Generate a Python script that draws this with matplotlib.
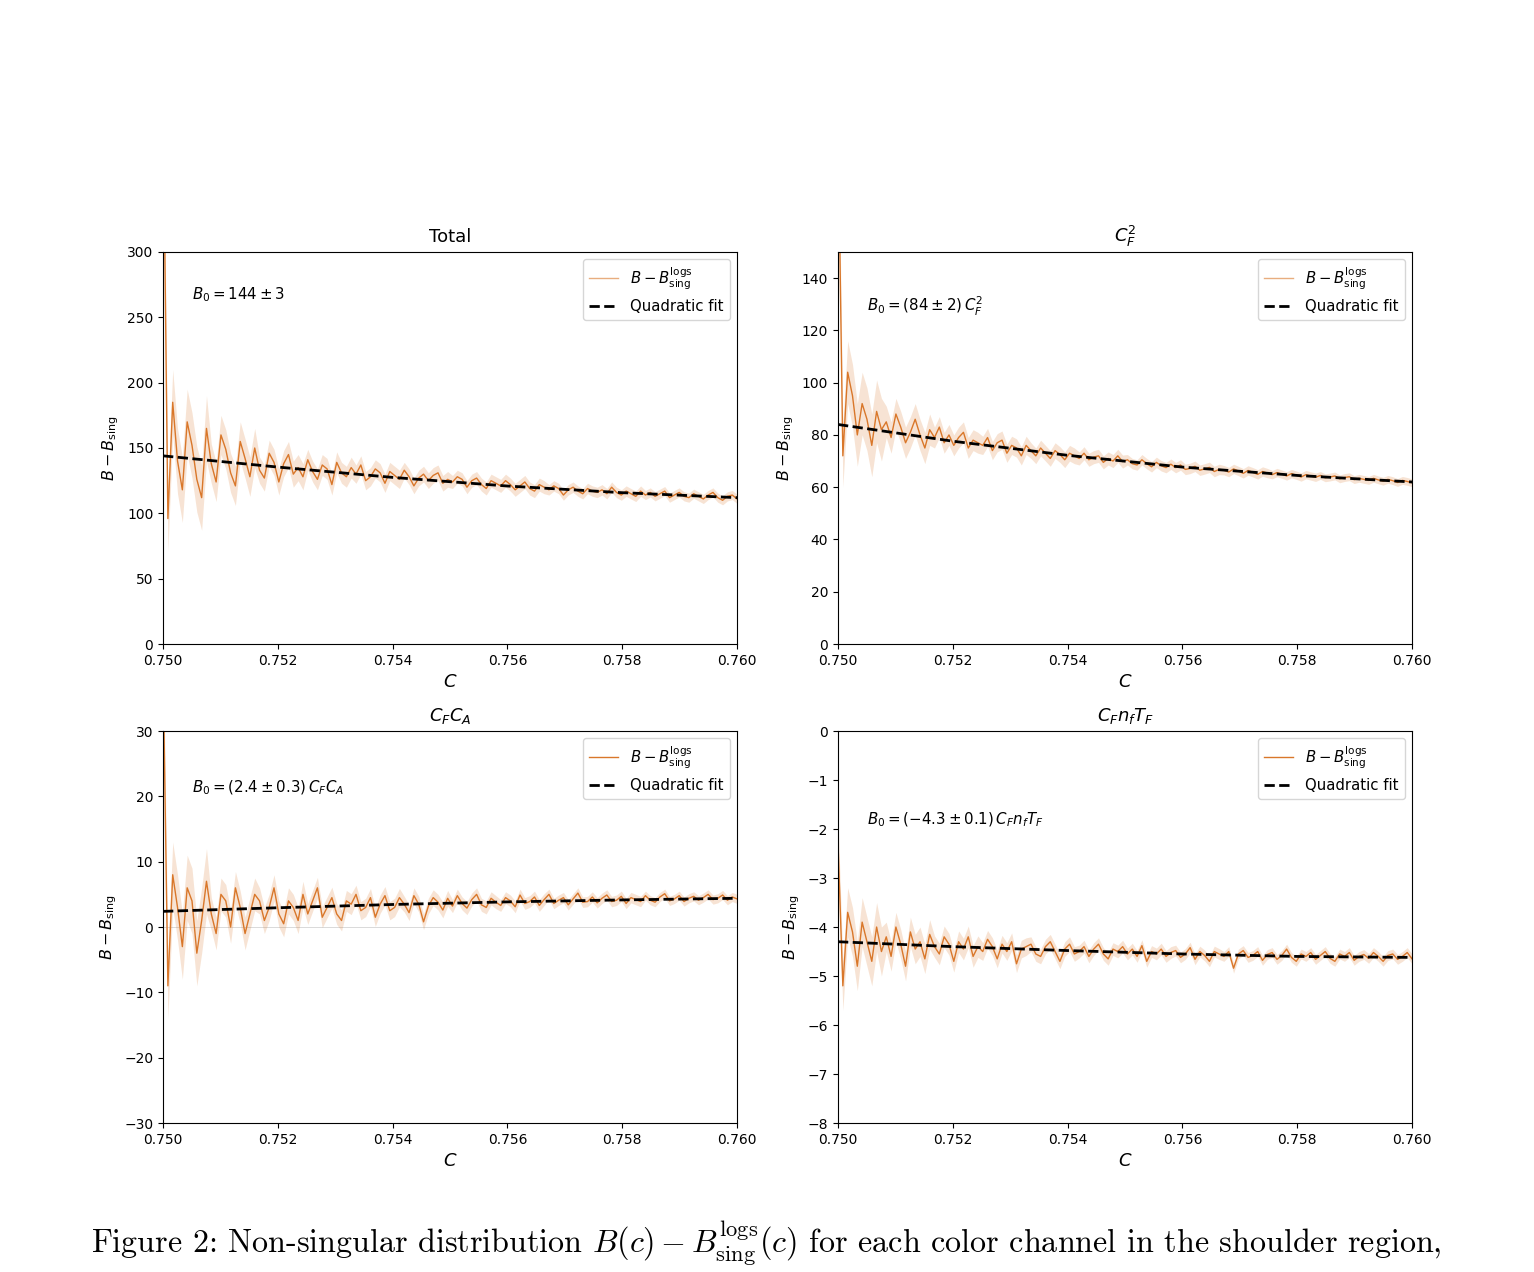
import matplotlib.pyplot as plt
import numpy as np

# c range of the shoulder region
c_min, c_max = 0.750, 0.760

# B - B_sing (120 points per channel)
total_vals = [420, 96, 185, 140, 118, 170, 152, 126, 112, 165,
              138, 124, 160, 149, 131, 121, 155, 142, 128, 150,
              133, 127, 146, 139, 124, 138, 145, 130, 135, 128,
              141, 132, 126, 137, 134, 122, 139, 131, 128, 135,
              130, 137, 125, 128, 134, 131, 123, 132, 129, 126,
              133, 128, 121, 127, 130, 125, 129, 131, 123, 126,
              124, 128, 126, 120, 125, 127, 122, 119, 125, 123,
              121, 125, 122, 118, 121, 124, 119, 117, 122, 120,
              118, 121, 119, 114, 118, 120, 117, 115, 119, 117,
              116, 118, 115, 120, 116, 114, 117, 115, 113, 117,
              114, 116, 113, 115, 117, 112, 114, 116, 113, 112,
              115, 113, 111, 114, 116, 112, 110, 113, 114, 111]
cf2_vals = [200, 72, 104, 95, 80, 92, 86, 76, 89, 82,
            85, 79, 88, 83, 77, 81, 86, 80, 75, 82,
            79, 83, 77, 80, 76, 79, 81, 75, 78, 77,
            76, 79, 74, 77, 78, 73, 76, 75, 72, 76,
            74, 72, 75, 73, 71, 74, 72.5, 70.5, 73, 72,
            71, 73, 70.5, 71.5, 72, 69.5, 71, 70, 72, 69.8,
            70.5, 69, 68.5, 70.5, 69, 67.8, 69.5, 68.2, 67.5, 68.8,
            67.5, 68.5, 66.8, 67.2, 68, 66.5, 67, 67.6, 66, 66.8,
            66.5, 65.8, 67, 66.2, 65.3, 66.4, 65.7, 64.9, 66, 65.4,
            64.8, 65.6, 65, 64.3, 65.2, 64.6, 63.9, 64.8, 64.3, 63.8,
            64.5, 63.6, 63.9, 64.3, 63.2, 63.7, 64, 62.9, 63.4, 63,
            62.6, 63.4, 62.8, 62.3, 63, 62.5, 61.8, 62.6, 62.2, 61.7]
cfca_vals = [40, -9, 8, 3, -3, 6, 4, -4, 1, 7,
             2, -1, 5, 4, 0, 6, 3, -1, 2, 5,
             4, 1, 3, 6, 2, 0.5, 4, 3, 1, 5,
             2, 4, 6, 1.5, 3, 4.5, 2, 1, 4, 3.5,
             5, 2.5, 3, 4.5, 1.5, 3.5, 4.8, 2.5, 3, 4.5,
             3.5, 2.2, 4.8, 3.5, 0.8, 3.2, 4.5, 3.8, 2.6, 4.4,
             3.2, 4.8, 3.6, 2.9, 4.2, 5, 3.4, 3, 4.4, 3.8,
             3.3, 4.5, 4, 3.1, 4.9, 3.6, 3.9, 4.6, 3.3, 4.2,
             5, 3.6, 4.1, 4.5, 3.4, 4.3, 5.2, 3.8, 3.9, 4.6,
             3.7, 4.4, 4.9, 3.9, 4.1, 4.7, 3.6, 4.5, 4.2, 3.9,
             4.8, 4.1, 3.8, 4.6, 5.1, 4, 4.3, 4.8, 3.9, 4.4,
             4.7, 4.1, 4.5, 5, 4.2, 4.4, 4.9, 4.1, 4.6, 4.3]
cfnf_vals = [-2.3, -5.2, -3.7, -4.1, -4.8, -3.9, -4.3, -4.7, -4.0, -4.5,
             -4.2, -4.6, -4.0, -4.35, -4.8, -4.1, -4.45, -4.3, -4.65, -4.15,
             -4.4, -4.55, -4.2, -4.35, -4.7, -4.3, -4.45, -4.2, -4.6, -4.4,
             -4.5, -4.25, -4.4, -4.65, -4.35, -4.5, -4.3, -4.75, -4.45, -4.4,
             -4.35, -4.55, -4.6, -4.4, -4.3, -4.5, -4.7, -4.45, -4.35, -4.55,
             -4.5, -4.4, -4.6, -4.45, -4.35, -4.55, -4.65, -4.45, -4.5, -4.4,
             -4.55, -4.45, -4.6, -4.38, -4.7, -4.5, -4.55, -4.45, -4.6, -4.52,
             -4.48, -4.62, -4.55, -4.42, -4.66, -4.5, -4.58, -4.7, -4.5, -4.55,
             -4.6, -4.5, -4.84, -4.55, -4.48, -4.62, -4.58, -4.5, -4.68, -4.56,
             -4.52, -4.66, -4.58, -4.45, -4.62, -4.7, -4.55, -4.6, -4.52, -4.66,
             -4.58, -4.5, -4.64, -4.7, -4.55, -4.6, -4.52, -4.68, -4.6, -4.56,
             -4.64, -4.52, -4.6, -4.7, -4.58, -4.55, -4.66, -4.6, -4.52, -4.65]

# error bands, one value per block of 10 points
total_err = [25, 15, 10, 8, 7, 6, 5, 5, 4, 4, 3.5, 3.5]
cf2_err = [12, 6, 4, 3.5, 3, 2.5, 2, 2, 1.8, 1.6, 1.5, 1.5]
cfca_err = [5, 2.5, 2, 1.6, 1.4, 1.2, 1, 0.9, 0.8, 0.8, 0.7, 0.7]
cfnf_err = [0.5, 0.3, 0.22, 0.18, 0.15, 0.13, 0.12, 0.11, 0.1, 0.1, 0.1, 0.1]

# quadratic fit, read at c = 0.750, 0.752, ..., 0.760
fit_c = [0.750, 0.752, 0.754, 0.756, 0.758, 0.760]
total_fit = [144, 135.4, 127.5, 120.9, 115.8, 112]
cf2_fit = [84, 77.6, 72.2, 67.7, 64.5, 62]
cfca_fit = [2.4, 2.95, 3.45, 3.85, 4.15, 4.4]
cfnf_fit = [-4.3, -4.4, -4.48, -4.55, -4.6, -4.62]

titles = ["Total", "$C_F^2$", "$C_FC_A$", "$C_Fn_fT_F$"]
b0_labels = [r"$B_0 = 144 \pm 3$", r"$B_0 = (84 \pm 2)\,C_F^2$",
             r"$B_0 = (2.4 \pm 0.3)\,C_FC_A$", r"$B_0 = (-4.3 \pm 0.1)\,C_Fn_fT_F$"]
ylims = [(0, 300), (0, 150), (-30, 30), (-8, 0)]
ysteps = [50, 20, 10, 1]
label_y = [0.89, 0.86, 0.855, 0.773]

series = [total_vals, cf2_vals, cfca_vals, cfnf_vals]
errors = [total_err, cf2_err, cfca_err, cfnf_err]
fits = [total_fit, cf2_fit, cfca_fit, cfnf_fit]

orange = "#d9772a"

fig = plt.figure(figsize=(15.34, 12.72), dpi=100)
positions = [(0.1063, 0.4937), (0.5463, 0.4937), (0.1063, 0.1171), (0.5463, 0.1171)]

for k in range(4):
    ax = fig.add_axes([positions[k][0], positions[k][1], 0.3742, 0.3082])
    vals = np.array(series[k], dtype=float)
    c = np.linspace(c_min, c_max, len(vals))
    err = np.repeat(errors[k], 10)
    ax.axhline(0, color="lightgray", lw=0.6, zorder=0)
    ax.fill_between(c, vals - err, vals + err, color=orange, alpha=0.2, lw=0)
    ax.plot(c, vals, color=orange, lw=1.0)
    ax.plot(fit_c, fits[k], "k--", lw=2)
    # legend handles (top row drawn lighter, as in the original)
    line_alpha = 0.6 if k < 2 else 1.0
    h1, = ax.plot([], [], color=orange, lw=1, alpha=line_alpha)
    h2, = ax.plot([], [], "k--", lw=2)
    ax.legend([h1, h2], [r"$B - B^{\rm logs}_{\rm sing}$", "Quadratic fit"],
              loc="upper right", fontsize=10.7)
    ax.text(0.05, label_y[k], b0_labels[k], transform=ax.transAxes,
            fontsize=10.8, va="center")
    ax.set_xlim(c_min, c_max)
    ax.set_ylim(*ylims[k])
    ax.set_xticks(np.arange(0.750, 0.7601, 0.002))
    ax.set_xticklabels(["%.3f" % t for t in np.arange(0.750, 0.7601, 0.002)])
    ax.set_yticks(np.arange(ylims[k][0], ylims[k][1] + 0.001, ysteps[k]))
    ax.set_title(titles[k], fontsize=13, pad=7)
    ax.set_xlabel("$C$", fontsize=13)
    ax.set_ylabel(r"$B - B_{\rm sing}$", fontsize=11.5)
    ax.tick_params(labelsize=10)

fig.text(0.059, 0.0235,
         r"Figure 2: Non-singular distribution $B(c) - B^{\rm logs}_{\rm sing}(c)$"
         " for each color channel in the shoulder region,",
         family="cmr10", math_fontfamily="cm", fontsize=23.1, va="center")

fig.savefig("out.png", dpi=100)
